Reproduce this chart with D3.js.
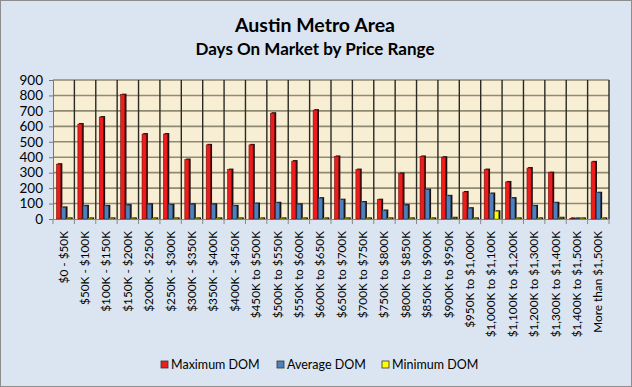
<!DOCTYPE html>
<html>
<head>
<meta charset="utf-8">
<script src="https://cdn.jsdelivr.net/npm/d3@7"></script>
<style>
  body { margin: 0; background: #fff; }
  text { font-family: Lato, "Open Sans", sans-serif; fill: #000; }
</style>
</head>
<body>
<div id="chart"></div>
<script>
const categories = ["$0 - $50K", "$50K - $100K", "$100K - $150K", "$150K - $200K", "$200K - $250K",
  "$250K - $300K", "$300K - $350K", "$350K - $400K", "$400K - $450K", "$450K to $500K",
  "$500K to $550K", "$550K to $600K", "$600K to $650K", "$650K to $700K", "$700K to $750K",
  "$750K to $800K", "$800K to $850K", "$850K to $900K", "$900K to $950K", "$950K to $1,000K",
  "$1,000K to $1,100K", "$1,100K to $1,200K", "$1,200K to $1,300K", "$1,300K to $1,400K",
  "$1,400K to $1,500K", "More than $1,500K"];
const maxDom = [355, 615, 660, 805, 550, 550, 385, 480, 320, 480, 685, 375, 705, 405, 320, 125,
  295, 405, 400, 175, 320, 240, 330, 300, 4, 370];
const avgDom = [75, 85, 85, 90, 95, 92, 95, 95, 85, 100, 105, 95, 135, 125, 110, 55,
  90, 190, 150, 70, 165, 135, 85, 105, 4, 170];
const minDom = [4, 4, 4, 4, 4, 4, 4, 4, 4, 4, 4, 4, 4, 4, 4, 4,
  4, 4, 8, 4, 50, 4, 4, 8, 4, 4];
const yTicks = [0, 100, 200, 300, 400, 500, 600, 700, 800, 900];
const seriesNames = ["Maximum DOM", "Average DOM", "Minimum DOM"];

const W = 632, H = 387;
const plot = { left: 53, right: 609, top: 80, bottom: 219 };
const colors = ["#ee1d1d", "#4f81bd", "#ffff00"];
const edges = ["#7a0c0c", "#23405f", "#7a7a00"];

const svg = d3.select("#chart").append("svg")
    .attr("width", W)
    .attr("height", H);

// chart background and border
svg.append("rect")
    .attr("x", 0.5).attr("y", 0.5)
    .attr("width", W - 1).attr("height", H - 1)
    .attr("fill", "#dbe5f1")
    .attr("stroke", "#8e8e8e");

svg.append("text")
    .attr("x", 315).attr("y", 32)
    .attr("text-anchor", "middle")
    .style("font-size", "19.5px").style("font-weight", "bold")
    .text("Austin Metro Area");
svg.append("text")
    .attr("x", 315).attr("y", 55)
    .attr("text-anchor", "middle")
    .style("font-size", "17px").style("font-weight", "bold")
    .text("Days On Market by Price Range");

const x = d3.scaleBand().domain(categories).range([plot.left, plot.right]);
const x1 = d3.scaleBand().domain(seriesNames).range([3.5, 19]).padding(0);
const y = d3.scaleLinear().domain([0, 900]).range([plot.bottom, plot.top]);

// plot wall
svg.append("rect")
    .attr("x", plot.left).attr("y", plot.top)
    .attr("width", plot.right - plot.left).attr("height", plot.bottom - plot.top)
    .attr("fill", "#f8eed4");

// horizontal gridlines
svg.append("g")
    .selectAll("line")
    .data(yTicks.slice(1))
    .enter().append("line")
    .attr("x1", plot.left).attr("x2", plot.right)
    .attr("y1", d => y(d)).attr("y2", d => y(d))
    .attr("stroke", "#8f8a74")
    .attr("stroke-width", 1.6);

// vertical lines between categories
svg.append("g")
    .selectAll("line")
    .data(categories.slice(1))
    .enter().append("line")
    .attr("x1", d => x(d)).attr("x2", d => x(d))
    .attr("y1", plot.top).attr("y2", plot.bottom)
    .attr("stroke", "#2a2a24")
    .attr("stroke-width", 1.4);

// right edge of wall
svg.append("line")
    .attr("x1", plot.right).attr("x2", plot.right)
    .attr("y1", plot.top).attr("y2", plot.bottom)
    .attr("stroke", "#2a2a24").attr("stroke-width", 1.4);

// y axis
const yAxis = d3.axisLeft(y).tickValues(yTicks).tickSize(4).tickPadding(6);
const gy = svg.append("g")
    .attr("transform", "translate(" + plot.left + ",0)")
    .call(yAxis);
gy.select(".domain").attr("stroke", "#777");
gy.selectAll(".tick line").attr("stroke", "#777");
gy.selectAll("text").style("font-size", "13.5px").style("font-family", "Lato, sans-serif");

// x axis
const xAxis = d3.axisBottom(x).tickSize(0).tickFormat("");
const gx = svg.append("g")
    .attr("transform", "translate(0," + plot.bottom + ")")
    .call(xAxis);
gx.select(".domain").attr("stroke", "#888");
gx.selectAll(".tick").remove();
gx.selectAll(".sep")
    .data(categories.concat(["end"]))
    .enter().append("line")
    .attr("class", "sep")
    .attr("x1", (d, i) => plot.left + i * x.bandwidth())
    .attr("x2", (d, i) => plot.left + i * x.bandwidth())
    .attr("y1", 0).attr("y2", 5)
    .attr("stroke", "#888");

// category labels
svg.append("g")
    .selectAll("text")
    .data(categories)
    .enter().append("text")
    .attr("transform", d => "translate(" + (x(d) + x.bandwidth() / 2 + 4) + ",231) rotate(-90)")
    .attr("text-anchor", "end")
    .style("font-size", "11.8px")
    .text(d => d);

// bars
const series = [maxDom, avgDom, minDom];
series.forEach((vals, s) => {
  const g = svg.append("g");
  const bw = x1.bandwidth() - 0.5;
  const rows = categories.map((c, i) => ({ c: c, v: vals[i] }));
  // dark right side for the 3D look
  g.selectAll(".side")
      .data(rows)
      .enter().append("rect")
      .attr("x", d => x(d.c) + x1(seriesNames[s]) + 1.2)
      .attr("y", d => y(d.v) - 1)
      .attr("width", bw)
      .attr("height", d => plot.bottom - y(d.v) + 1)
      .attr("fill", "#1a1010");
  g.selectAll(".bar")
      .data(rows)
      .enter().append("rect")
      .attr("x", d => x(d.c) + x1(seriesNames[s]))
      .attr("y", d => y(d.v))
      .attr("width", bw - 0.5)
      .attr("height", d => Math.max(0, plot.bottom - y(d.v)))
      .attr("fill", d => (s === 2 && d.v < 10) ? "#222" : colors[s])
      .attr("stroke", edges[s])
      .attr("stroke-width", 0.6);
});

// legend
const legendX = [161, 277, 382];
const legend = svg.append("g");
seriesNames.forEach((n, i) => {
  legend.append("rect")
      .attr("x", legendX[i]).attr("y", 361)
      .attr("width", 7).attr("height", 7)
      .attr("fill", colors[i])
      .attr("stroke", "#333").attr("stroke-width", 0.8);
  legend.append("text")
      .attr("x", legendX[i] + 10).attr("y", 369)
      .style("font-size", "12.5px")
      .text(n);
});
</script>
</body>
</html>
